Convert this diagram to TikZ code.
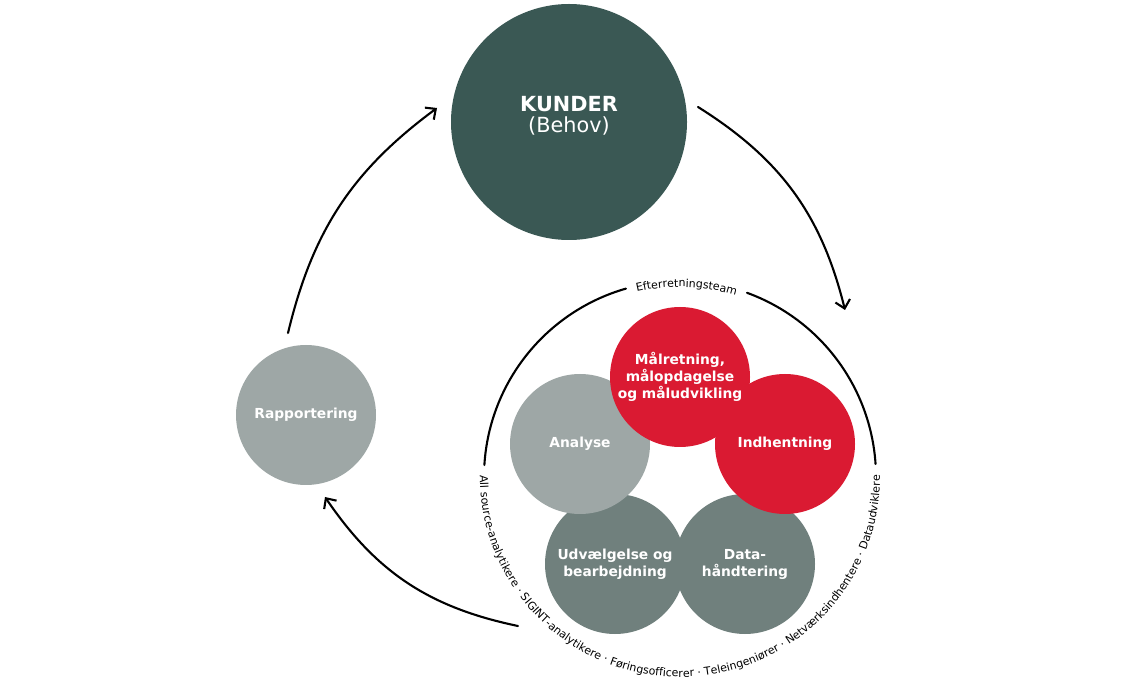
\documentclass[tikz,border=0pt]{standalone}
\usepackage{fontspec}
\setmainfont{DejaVu Sans}
\usetikzlibrary{arrows.meta,decorations.text}
\definecolor{kundegroen}{RGB}{58,88,84}
\definecolor{lysgraa}{RGB}{158,167,166}
\definecolor{moerkgraa}{RGB}{112,128,125}
\definecolor{roed}{RGB}{218,26,50}
\begin{document}
\begin{tikzpicture}[x=1pt, y=1pt, line width=2.1pt, line cap=round,
  rund/.style={circle, inner sep=0pt, outer sep=0pt, minimum size=140,
    text=white, align=center, font=\fontsize{13.8}{17}\selectfont\bfseries},
  pil/.style={-{Straight Barb[length=8pt,width=15pt]}},
  ringtekst/.style={decorate, decoration={text along path, text align=center,
    text={|\fontsize{11}{13}\selectfont|#1}}}]
  \useasboundingbox (0,0) rectangle (1146,694);
  % kunderne og rapporteringen
  \node[rund, fill=kundegroen, minimum size=236, text depth=15pt,
    font=\fontsize{20.8}{20.5}\selectfont] (kunder) at (569,572) {\textbf{KUNDER}\\(Behov)};
  \node[rund, fill=lysgraa] (rapport) at (306,279) {Rapportering};
  % efterretningsteamet, de fem cirkler nedefra
  \coordinate (team) at (680,217);
  \node[rund, fill=moerkgraa] (udv) at (615,130) {Udvælgelse og\\bearbejdning};
  \node[rund, fill=moerkgraa] (data) at (745,130) {Data-\\håndtering};
  \node[rund, fill=lysgraa] (analyse) at (580,250) {Analyse};
  \node[rund, fill=roed] (indh) at (785,250) {Indhentning};
  \node[rund, fill=roed] (maal) at (680,317) {Målretning,\\målopdagelse\\og måludvikling};
  % ringen med tekst
  \draw ([shift={(3.8:196)}]team) arc[start angle=3.8, end angle=70, radius=196];
  \draw ([shift={(106:196)}]team) arc[start angle=106, end angle=176.5, radius=196];
  \path[ringtekst=Efterretningsteam]
    ([shift={(130:190)}]team) arc[start angle=130, end angle=46, radius=190];
  \path[ringtekst={All source-analytikere · SIGINT-analytikere · Føringsofficerer · Teleingeniører · Netværksindhentere · Dataudviklere}]
    ([shift={(175:200)}]team) arc[start angle=175, end angle=365, radius=200];
  % pilene rundt
  \coordinate (k-ud) at ([shift={(129,15)}]kunder.center);
  \coordinate (t-ind) at ([shift={(165,167)}]team);
  \coordinate (t-ud) at ([shift={(-162,-149)}]team);
  \coordinate (r-ind) at ([shift={(19,-82)}]rapport.center);
  \coordinate (r-ud) at ([shift={(-18,82)}]rapport.center);
  \coordinate (k-ind) at ([shift={(-132,14)}]kunder.center);
  \draw[pil] (k-ud) to[bend left=22] (t-ind);
  \draw[pil] (t-ud) to[bend left=22] (r-ind);
  \draw[pil] (r-ud) to[bend left=20] (k-ind);
\end{tikzpicture}
\end{document}
